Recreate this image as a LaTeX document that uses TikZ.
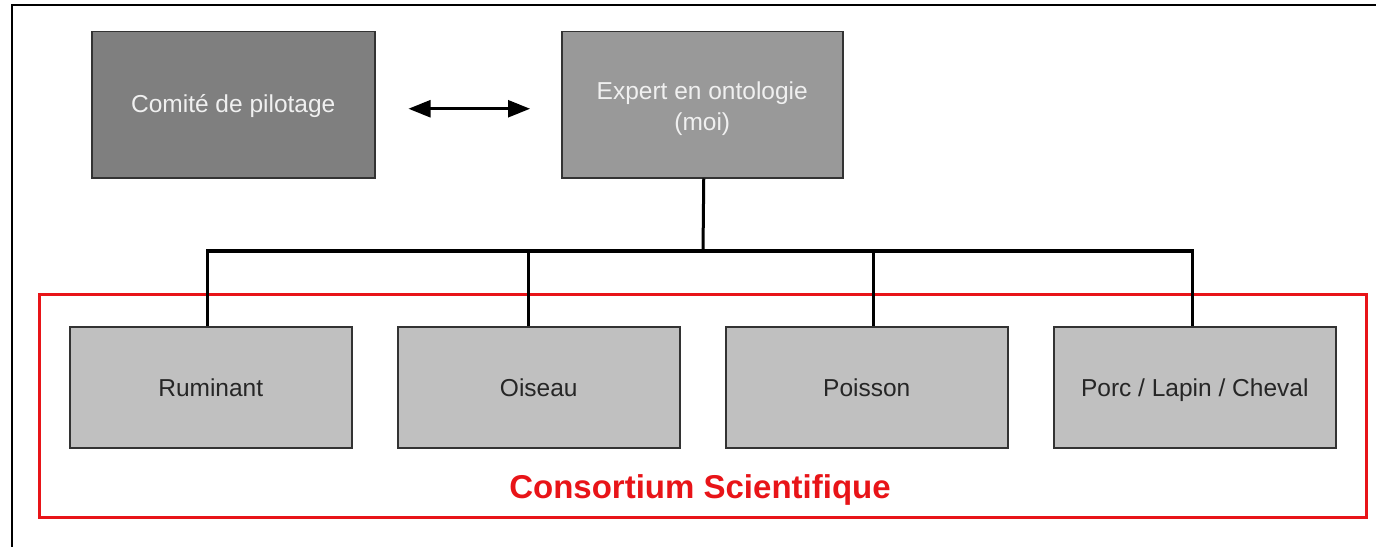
\documentclass[tikz,border=0pt]{standalone}
\usepackage{fontspec}
\setmainfont{Liberation Sans}
\usetikzlibrary{arrows.meta}
\definecolor{darkbox}{HTML}{7F7F7F}
\definecolor{midbox}{HTML}{999999}
\definecolor{lightbox}{HTML}{C0C0C0}
\definecolor{edgegray}{HTML}{333333}
\definecolor{toptext}{HTML}{F0F0F0}
\definecolor{consred}{RGB}{232,20,24}
\begin{document}
\begin{tikzpicture}[x=1bp,y=-1bp,
  boxbase/.style={draw=edgegray, line width=1.5bp, inner sep=0pt, anchor=north west},
  topbox/.style={boxbase, text=toptext, font=\fontsize{24.5bp}{31bp}\selectfont, align=center},
  botbox/.style={boxbase, fill=lightbox, text=black!85, font=\fontsize{24.5bp}{28bp}\selectfont,
     text height=19.5bp, text depth=2bp, minimum width=282bp, minimum height=121bp},
  link/.style={draw=black, line width=3bp},
]
\useasboundingbox (0,0) rectangle (1376,547);
\begin{scope}
\clip (0,0) rectangle (1376,547);
\draw[line width=2.5bp] (12,5) rectangle (1385,560);
\end{scope}
% top boxes
\node[topbox, fill=darkbox, minimum width=283bp, minimum height=146bp] (comite) at (91,31) {\raisebox{-7.5bp}[0pt][0pt]{Comit\'e de pilotage}};
\node[topbox, fill=midbox, minimum width=281bp, minimum height=146bp] (expert) at (561,31) {\raisebox{-25.5bp}[0pt][0pt]{\shortstack{Expert en ontologie\\\rule{0pt}{23bp}(moi)}}};
% red group
\node[draw=consred, line width=3bp, minimum width=1327bp, minimum height=223bp, inner sep=0pt, anchor=north west] (group) at (38,293) {};
\node[text=consred, font=\fontsize{33bp}{36bp}\selectfont\bfseries] (cons) at (700,490) {Consortium Scientifique};
% bottom boxes
\node[botbox] (rum) at (69,326) {Ruminant};
\node[botbox] (ois) at (397,326) {Oiseau};
\node[botbox] (poi) at (725,326) {Poisson};
\node[botbox] (porc) at (1053,326) {Porc / Lapin / Cheval};
% arrow
\draw[line width=2.5bp, {Triangle[length=22bp,width=17bp]}-{Triangle[length=22bp,width=17bp]},
  shorten <=33bp, shorten >=31bp] ([yshift=-4bp]comite.east) -- ([yshift=-4bp]expert.west);
% tree connectors
\coordinate (bus) at (703,251);
\draw[link] ([xshift=1.5bp]expert.south) -- (bus);
\draw[link] (bus) -| ([xshift=-3bp]rum.north);
\draw[link] (bus) -| ([xshift=-10bp]ois.north);
\draw[link] (bus) -| ([xshift=6.5bp]poi.north);
\draw[link] (bus) -| ([xshift=-2.5bp]porc.north);
\end{tikzpicture}
\end{document}
